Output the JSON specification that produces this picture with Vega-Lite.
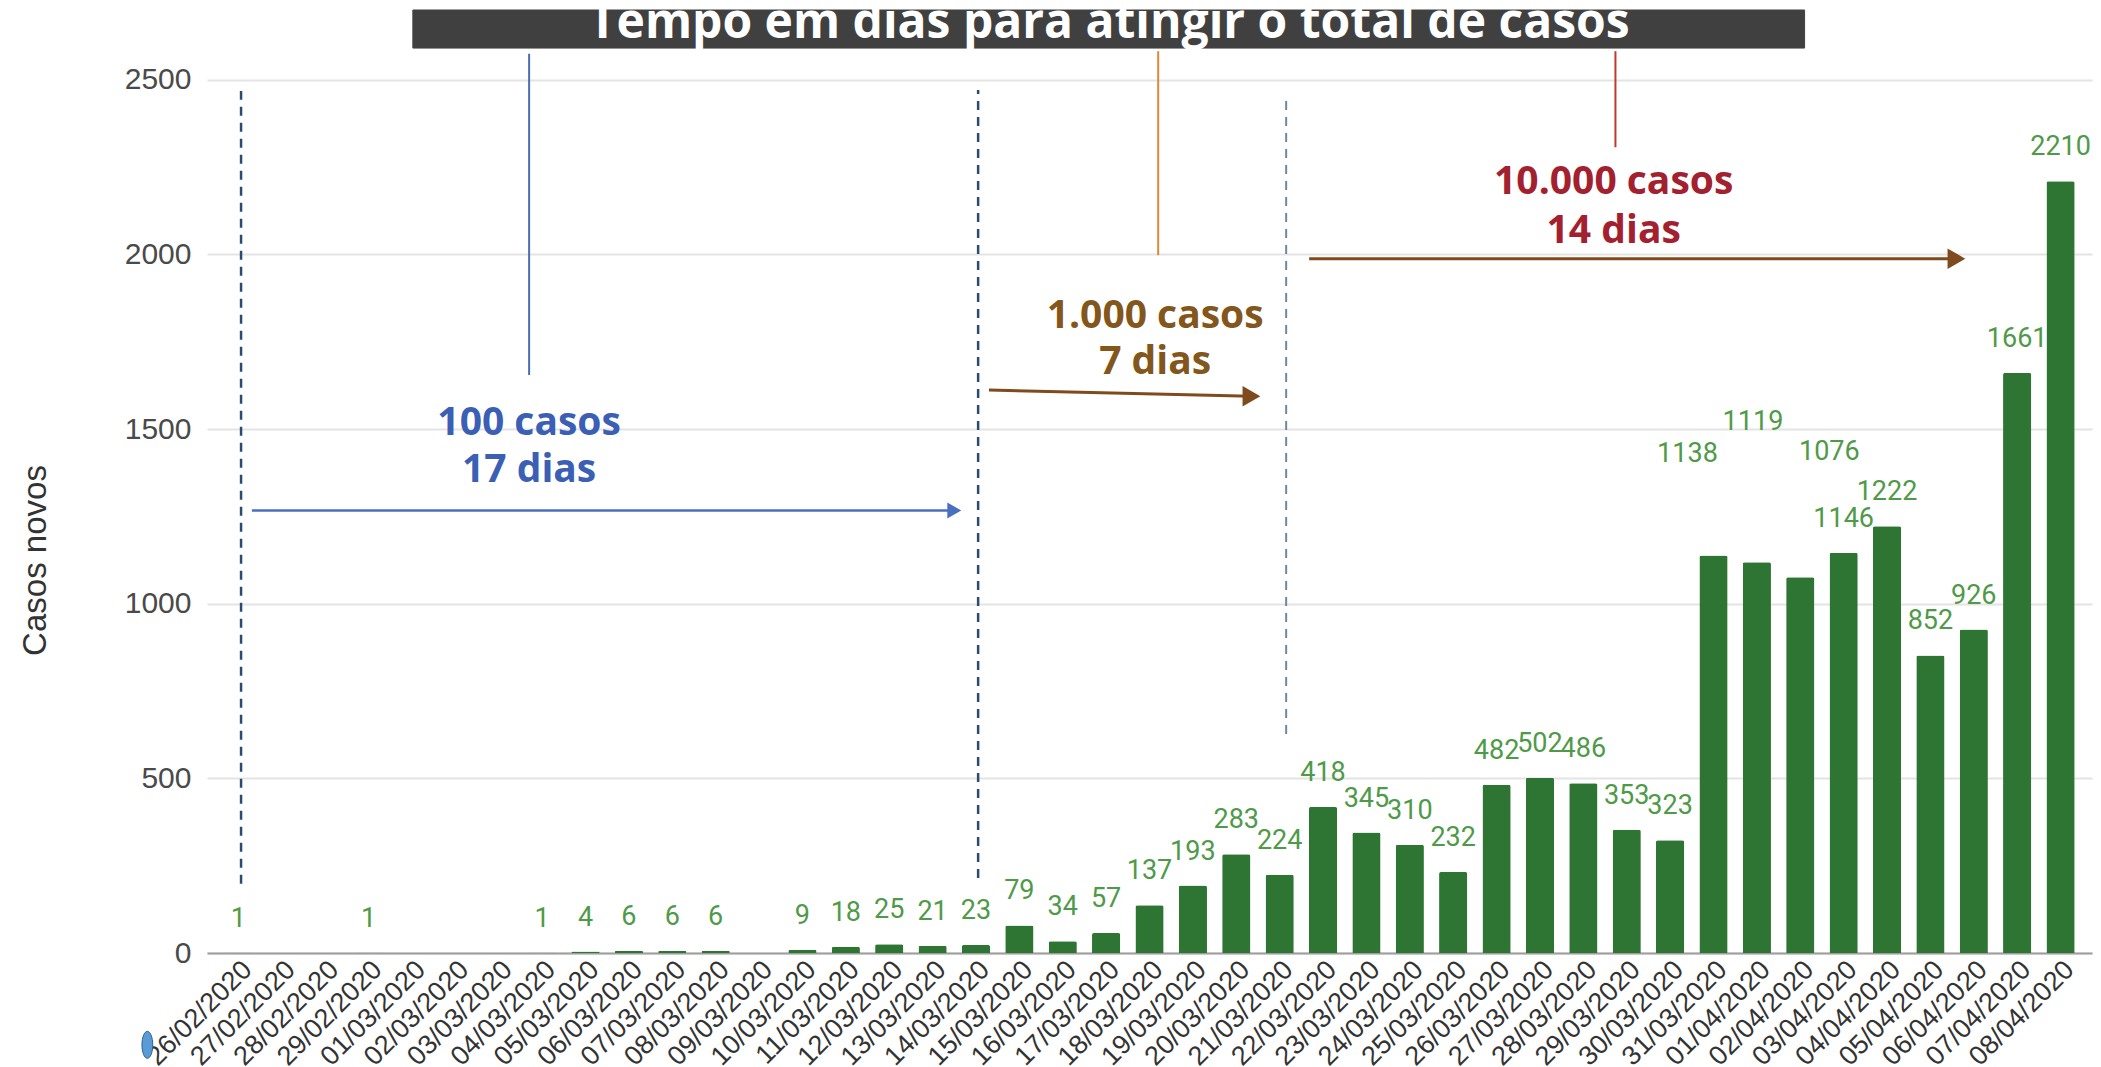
{
  "$schema": "https://vega.github.io/schema/vega-lite/v6.json",
  "autosize": {"type": "none"},
  "padding": {"left": 207, "top": 10, "right": 9, "bottom": 114},
  "width": 1885,
  "height": 943,
  "background": "white",
  "config": {"view": {"stroke": null}},
  "datasets": {
    "casos": [
      {"data": "26/02/2020", "casos": 1},
      {"data": "27/02/2020", "casos": 0},
      {"data": "28/02/2020", "casos": 0},
      {"data": "29/02/2020", "casos": 1},
      {"data": "01/03/2020", "casos": 0},
      {"data": "02/03/2020", "casos": 0},
      {"data": "03/03/2020", "casos": 0},
      {"data": "04/03/2020", "casos": 1},
      {"data": "05/03/2020", "casos": 4},
      {"data": "06/03/2020", "casos": 6},
      {"data": "07/03/2020", "casos": 6},
      {"data": "08/03/2020", "casos": 6},
      {"data": "09/03/2020", "casos": 0},
      {"data": "10/03/2020", "casos": 9},
      {"data": "11/03/2020", "casos": 18},
      {"data": "12/03/2020", "casos": 25},
      {"data": "13/03/2020", "casos": 21},
      {"data": "14/03/2020", "casos": 23},
      {"data": "15/03/2020", "casos": 79},
      {"data": "16/03/2020", "casos": 34},
      {"data": "17/03/2020", "casos": 57},
      {"data": "18/03/2020", "casos": 137},
      {"data": "19/03/2020", "casos": 193},
      {"data": "20/03/2020", "casos": 283},
      {"data": "21/03/2020", "casos": 224},
      {"data": "22/03/2020", "casos": 418},
      {"data": "23/03/2020", "casos": 345},
      {"data": "24/03/2020", "casos": 310},
      {"data": "25/03/2020", "casos": 232},
      {"data": "26/03/2020", "casos": 482},
      {"data": "27/03/2020", "casos": 502},
      {"data": "28/03/2020", "casos": 486},
      {"data": "29/03/2020", "casos": 353},
      {"data": "30/03/2020", "casos": 323},
      {"data": "31/03/2020", "casos": 1138},
      {"data": "01/04/2020", "casos": 1119},
      {"data": "02/04/2020", "casos": 1076},
      {"data": "03/04/2020", "casos": 1146},
      {"data": "04/04/2020", "casos": 1222},
      {"data": "05/04/2020", "casos": 852},
      {"data": "06/04/2020", "casos": 926},
      {"data": "07/04/2020", "casos": 1661},
      {"data": "08/04/2020", "casos": 2210}
    ]
  },
  "layer": [
    {
      "data": {"name": "casos"},
      "encoding": {
        "x": {
          "field": "data", "type": "nominal", "sort": null,
          "scale": {"paddingInner": 0.35, "paddingOuter": 0.4},
          "axis": {
            "title": null, "labelAngle": -45, "labelFontSize": 27, "labelFont": "Liberation Sans",
            "labelColor": "#333333", "ticks": false, "domain": true, "domainColor": "#9e9e9e",
            "domainWidth": 2, "labelPadding": 3, "labelOverlap": false, "labelBound": false,
            "labelLimit": 0, "grid": false
          }
        },
        "y": {
          "field": "casos", "type": "quantitative", "title": "Casos novos",
          "scale": {"domain": [0, 2700], "nice": false},
          "axis": {
            "title": "Casos novos", "values": [0, 500, 1000, 1500, 2000, 2500], "format": "d",
            "domain": false, "ticks": false, "grid": true, "gridColor": "#e4e4e4", "gridWidth": 2,
            "labelFontSize": 30, "labelFont": "Liberation Sans", "labelColor": "#4a4a4a", "labelPadding": 16,
            "titleFont": "Liberation Sans", "titleFontSize": 33, "titleFontWeight": "normal",
            "titleColor": "#333333", "titleAngle": -90, "titleX": -162, "titleY": 550,
            "titleBaseline": "alphabetic", "titleAlign": "center"
          }
        }
      },
      "layer": [
        {"mark": {"type": "bar", "color": "#2e7533", "cornerRadiusTopLeft": 2, "cornerRadiusTopRight": 2}},
        {
          "transform": [{"filter": "datum.casos > 0 && datum.casos != 1138 && datum.casos != 1119 && datum.casos != 1076"}],
          "mark": {"type": "text", "color": "#4f9a48", "font": "Roboto", "fontSize": 27, "baseline": "alphabetic", "dy": -26},
          "encoding": {"text": {"field": "casos", "type": "quantitative"}}
        }
      ]
    },
    {
      "layer": [
        {
          "data": {"values": [{"i": 4.02, "i2": 36.1, "v": 2591, "v2": 2700}]},
          "mark": {"type": "rect", "color": "#404040", "stroke": "#404040", "strokeWidth": 1},
          "encoding": {
            "x": {"field": "i", "type": "quantitative", "scale": {"domain": [-0.725, 42.725], "nice": false, "zero": false}, "axis": null},
            "x2": {"field": "i2"},
            "y": {"field": "v", "type": "quantitative", "title": "Casos novos"},
            "y2": {"field": "v2"}
          }
        },
        {
          "data": {"values": [{"i": 20.07, "v": 2621, "t": "Tempo em dias para atingir o total de casos"}]},
          "mark": {"type": "text", "color": "white", "font": "Open Sans", "fontWeight": "bold", "fontSize": 48, "baseline": "alphabetic", "align": "center"},
          "encoding": {
            "x": {"field": "i", "type": "quantitative", "scale": {"domain": [-0.725, 42.725], "nice": false, "zero": false}, "axis": null},
            "y": {"field": "v", "type": "quantitative", "title": "Casos novos"},
            "text": {"field": "t"}
          }
        },
        {
          "data": {"values": [{"i": 0.06, "v": 198, "v2": 2468}, {"i": 17.05, "v": 215, "v2": 2471}]},
          "mark": {"type": "rule", "color": "#2c4c6c", "strokeWidth": 2.5, "strokeDash": [9, 7]},
          "encoding": {
            "x": {"field": "i", "type": "quantitative", "scale": {"domain": [-0.725, 42.725], "nice": false, "zero": false}, "axis": null},
            "y": {"field": "v", "type": "quantitative", "title": "Casos novos"},
            "y2": {"field": "v2"}
          }
        },
        {
          "data": {"values": [{"i": 24.15, "v": 627, "v2": 2452}]},
          "mark": {"type": "rule", "color": "#6c8aa6", "strokeWidth": 2, "strokeDash": [9, 7]},
          "encoding": {
            "x": {"field": "i", "type": "quantitative", "scale": {"domain": [-0.725, 42.725], "nice": false, "zero": false}, "axis": null},
            "y": {"field": "v", "type": "quantitative", "title": "Casos novos"},
            "y2": {"field": "v2"}
          }
        },
        {
          "data": {"values": [{"i": 6.7, "v": 1655, "v2": 2575}]},
          "mark": {"type": "rule", "color": "#4a6fb3", "strokeWidth": 2},
          "encoding": {
            "x": {"field": "i", "type": "quantitative", "scale": {"domain": [-0.725, 42.725], "nice": false, "zero": false}, "axis": null},
            "y": {"field": "v", "type": "quantitative", "title": "Casos novos"},
            "y2": {"field": "v2"}
          }
        },
        {
          "data": {"values": [{"i": 21.2, "v": 1998, "v2": 2582}]},
          "mark": {"type": "rule", "color": "#e0883c", "strokeWidth": 2},
          "encoding": {
            "x": {"field": "i", "type": "quantitative", "scale": {"domain": [-0.725, 42.725], "nice": false, "zero": false}, "axis": null},
            "y": {"field": "v", "type": "quantitative", "title": "Casos novos"},
            "y2": {"field": "v2"}
          }
        },
        {
          "data": {"values": [{"i": 31.74, "v": 2307, "v2": 2582}]},
          "mark": {"type": "rule", "color": "#c0392b", "strokeWidth": 2},
          "encoding": {
            "x": {"field": "i", "type": "quantitative", "scale": {"domain": [-0.725, 42.725], "nice": false, "zero": false}, "axis": null},
            "y": {"field": "v", "type": "quantitative", "title": "Casos novos"},
            "y2": {"field": "v2"}
          }
        },
        {
          "data": {"values": [{"i": 0.31, "i2": 16.5, "v": 1267, "v2": 1267}]},
          "mark": {"type": "rule", "color": "#4a6fc0", "strokeWidth": 2.5},
          "encoding": {
            "x": {"field": "i", "type": "quantitative", "scale": {"domain": [-0.725, 42.725], "nice": false, "zero": false}, "axis": null},
            "x2": {"field": "i2"},
            "y": {"field": "v", "type": "quantitative", "title": "Casos novos"},
            "y2": {"field": "v2"}
          }
        },
        {
          "data": {"values": [{"i": 16.5, "v": 1267}]},
          "mark": {"type": "point", "shape": "triangle-right", "filled": true, "color": "#4a6fc0", "size": 260, "opacity": 1},
          "encoding": {
            "x": {"field": "i", "type": "quantitative", "scale": {"domain": [-0.725, 42.725], "nice": false, "zero": false}, "axis": null},
            "y": {"field": "v", "type": "quantitative", "title": "Casos novos"}
          }
        },
        {
          "data": {"values": [{"i": 17.3, "i2": 23.35, "v": 1612, "v2": 1594}, {"i": 24.68, "i2": 39.6, "v": 1988, "v2": 1988}]},
          "mark": {"type": "rule", "color": "#7f4a1e", "strokeWidth": 3},
          "encoding": {
            "x": {"field": "i", "type": "quantitative", "scale": {"domain": [-0.725, 42.725], "nice": false, "zero": false}, "axis": null},
            "x2": {"field": "i2"},
            "y": {"field": "v", "type": "quantitative", "title": "Casos novos"},
            "y2": {"field": "v2"}
          }
        },
        {
          "data": {"values": [{"i": 23.35, "v": 1594}, {"i": 39.6, "v": 1988}]},
          "mark": {"type": "point", "shape": "triangle-right", "filled": true, "color": "#7f4a1e", "size": 420, "opacity": 1},
          "encoding": {
            "x": {"field": "i", "type": "quantitative", "scale": {"domain": [-0.725, 42.725], "nice": false, "zero": false}, "axis": null},
            "y": {"field": "v", "type": "quantitative", "title": "Casos novos"}
          }
        },
        {
          "data": {"values": [{"i": 33.4, "v": 1406, "rotulo": 1138}, {"i": 34.91, "v": 1497, "rotulo": 1119}, {"i": 36.67, "v": 1411, "rotulo": 1076}]},
          "mark": {"type": "text", "color": "#4f9a48", "font": "Roboto", "fontSize": 27, "baseline": "alphabetic", "align": "center"},
          "encoding": {
            "x": {"field": "i", "type": "quantitative", "scale": {"domain": [-0.725, 42.725], "nice": false, "zero": false}, "axis": null},
            "y": {"field": "v", "type": "quantitative", "title": "Casos novos"},
            "text": {"field": "rotulo", "type": "quantitative"}
          }
        },
        {
          "data": {"values": [{"i": 6.7, "v": 1517, "t": "100 casos"}, {"i": 6.7, "v": 1382, "t": "17 dias"}]},
          "mark": {"type": "text", "color": "#3b5fb5", "font": "Open Sans", "fontWeight": "bold", "fontSize": 39, "baseline": "middle", "align": "center"},
          "encoding": {
            "x": {"field": "i", "type": "quantitative", "scale": {"domain": [-0.725, 42.725], "nice": false, "zero": false}, "axis": null},
            "y": {"field": "v", "type": "quantitative", "title": "Casos novos"},
            "text": {"field": "t"}
          }
        },
        {
          "data": {"values": [{"i": 21.13, "v": 1823, "t": "1.000 casos"}, {"i": 21.13, "v": 1693, "t": "7 dias"}]},
          "mark": {"type": "text", "color": "#83561c", "font": "Open Sans", "fontWeight": "bold", "fontSize": 39, "baseline": "middle", "align": "center"},
          "encoding": {
            "x": {"field": "i", "type": "quantitative", "scale": {"domain": [-0.725, 42.725], "nice": false, "zero": false}, "axis": null},
            "y": {"field": "v", "type": "quantitative", "title": "Casos novos"},
            "text": {"field": "t"}
          }
        },
        {
          "data": {"values": [{"i": 31.7, "v": 2207, "t": "10.000 casos"}, {"i": 31.7, "v": 2068, "t": "14 dias"}]},
          "mark": {"type": "text", "color": "#a3202e", "font": "Open Sans", "fontWeight": "bold", "fontSize": 39, "baseline": "middle", "align": "center"},
          "encoding": {
            "x": {"field": "i", "type": "quantitative", "scale": {"domain": [-0.725, 42.725], "nice": false, "zero": false}, "axis": null},
            "y": {"field": "v", "type": "quantitative", "title": "Casos novos"},
            "text": {"field": "t"}
          }
        },
        {
          "data": {"values": [{"i": -2.1, "v": -263}]},
          "mark": {"type": "point", "shape": "M0,-1 A0.4,1 0 1,1 0,1 A0.4,1 0 1,1 0,-1 Z", "filled": true, "color": "#5b9bd5", "stroke": "#2f5f8f", "strokeWidth": 1, "size": 729, "opacity": 1},
          "encoding": {
            "x": {"field": "i", "type": "quantitative", "scale": {"domain": [-0.725, 42.725], "nice": false, "zero": false}, "axis": null},
            "y": {"field": "v", "type": "quantitative", "title": "Casos novos"}
          }
        }
      ]
    }
  ],
  "resolve": {"scale": {"x": "independent"}, "axis": {"x": "independent"}}
}
